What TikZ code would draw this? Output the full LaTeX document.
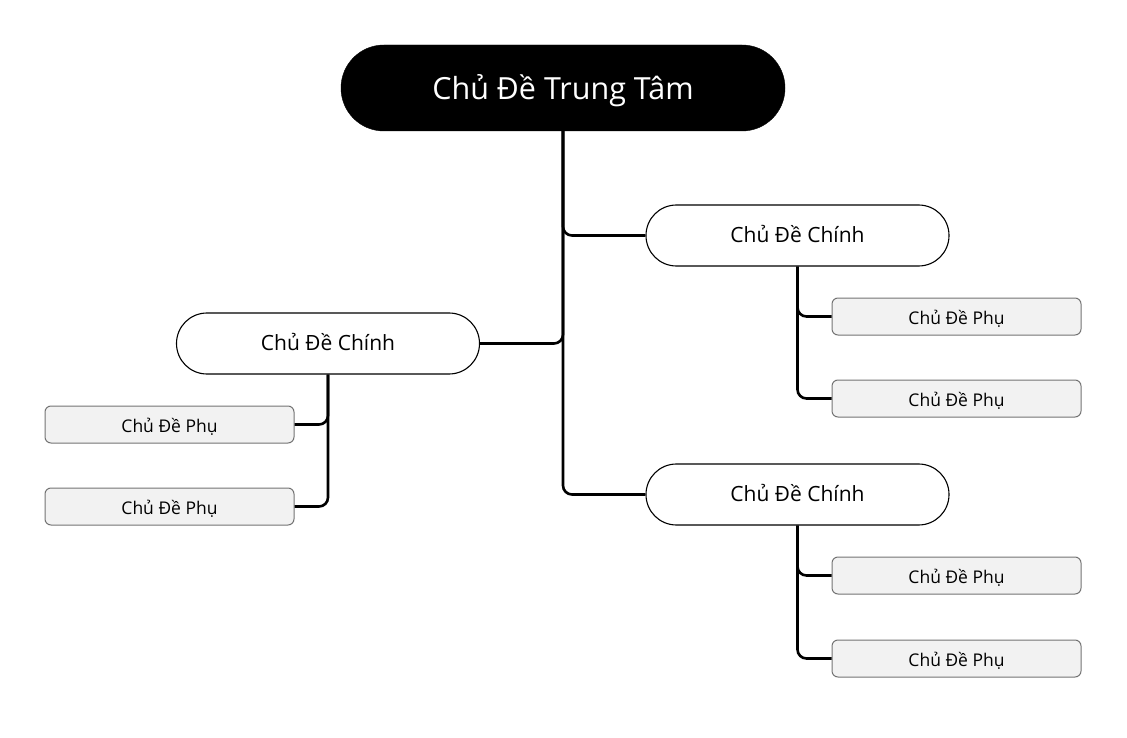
\documentclass[tikz,border=0pt]{standalone}
\usepackage{fontspec}
\setmainfont{Open Sans}
\begin{document}
\begin{tikzpicture}[x=1pt,y=-1pt,
  central/.style={draw=black,fill=black,text=white,rounded corners=42.9pt,minimum width=444pt,minimum height=86pt,inner sep=0pt,text height=25pt,text depth=2pt,font=\fontsize{30.5}{34}\selectfont},
  mainbox/.style={draw=black,line width=1.1pt,fill=white,rounded corners=30.4pt,minimum width=303pt,minimum height=61pt,inner sep=0pt,text height=16pt,text depth=1.6pt,font=\fontsize{21}{24}\selectfont},
  subbox/.style={draw=black!55,line width=1pt,fill=black!5,rounded corners=6pt,minimum width=249pt,minimum height=37pt,inner sep=0pt,text height=16pt,text depth=1pt,font=\fontsize{17.5}{20}\selectfont},
  conn/.style={draw=black,line width=2.6pt,rounded corners=9pt}]
\useasboundingbox (0,0) rectangle (1127,738);
\node[central] (c) at (563,88) {Chủ Đề Trung Tâm};
\node[mainbox] (r1) at (797.5,235.5) {Chủ Đề Chính};
\node[mainbox] (l) at (328,343.5) {Chủ Đề Chính};
\node[mainbox] (r2) at (797.5,494.5) {Chủ Đề Chính};
\node[subbox] (r1a) at (956.5,316.5) {Chủ Đề Phụ};
\node[subbox] (r1b) at (956.5,398.5) {Chủ Đề Phụ};
\node[subbox] (r2a) at (956.5,575.5) {Chủ Đề Phụ};
\node[subbox] (r2b) at (956.5,658.5) {Chủ Đề Phụ};
\node[subbox] (la) at (169.5,424.5) {Chủ Đề Phụ};
\node[subbox] (lb) at (169.5,506.5) {Chủ Đề Phụ};
\draw[conn] (c.south) |- (r1.west);
\draw[conn] (c.south) |- (r2.west);
\draw[conn] (c.south) |- (l.east);
\draw[conn] (r1.south) |- (r1a.west);
\draw[conn] (r1.south) |- (r1b.west);
\draw[conn] (r2.south) |- (r2a.west);
\draw[conn] (r2.south) |- (r2b.west);
\draw[conn] (l.south) |- (la.east);
\draw[conn] (l.south) |- (lb.east);
\end{tikzpicture}
\end{document}
